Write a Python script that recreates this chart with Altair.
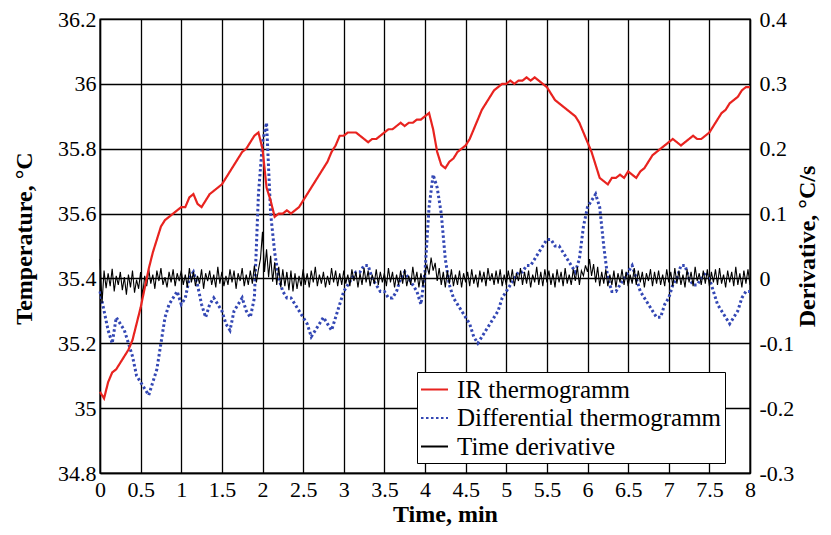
import altair as alt
import pandas as pd

# ---------------- data ----------------
series_names = ["IR thermogramm", "Differential thermogramm", "Time derivative"]

# IR thermogram, °C, sampled every 0.05 min from 0 to 8
ir_temp = [
    35.05, 35.03, 35.08, 35.11, 35.12, 35.14, 35.16, 35.18, 35.21, 35.26,
    35.31, 35.37, 35.43, 35.48, 35.52, 35.56, 35.58, 35.59, 35.60, 35.61,
    35.62, 35.62, 35.65, 35.66, 35.63, 35.62, 35.64, 35.66, 35.67, 35.68,
    35.69, 35.71, 35.73, 35.75, 35.77, 35.79, 35.80, 35.82, 35.84, 35.85,
    35.80, 35.68, 35.64, 35.59, 35.60, 35.60, 35.61, 35.60, 35.61, 35.62,
    35.64, 35.66, 35.68, 35.70, 35.72, 35.74, 35.76, 35.79, 35.81, 35.84,
    35.84, 35.85, 35.85, 35.85, 35.84, 35.83, 35.82, 35.83, 35.83, 35.84,
    35.85, 35.86, 35.86, 35.87, 35.88, 35.87, 35.88, 35.88, 35.89, 35.89,
    35.90, 35.91, 35.86, 35.79, 35.75, 35.74, 35.76, 35.77, 35.79, 35.80,
    35.81, 35.83, 35.86, 35.89, 35.92, 35.94, 35.96, 35.98, 35.99, 36.00,
    36.00, 36.01, 36.00, 36.01, 36.01, 36.02, 36.01, 36.02, 36.01, 36.00,
    35.99, 35.97, 35.95, 35.94, 35.93, 35.92, 35.91, 35.90, 35.88, 35.85,
    35.82, 35.79, 35.75, 35.71, 35.70, 35.69, 35.71, 35.71, 35.72, 35.71,
    35.73, 35.72, 35.71, 35.73, 35.74, 35.76, 35.78, 35.79, 35.80, 35.81,
    35.82, 35.83, 35.82, 35.81, 35.82, 35.83, 35.84, 35.83, 35.83, 35.84,
    35.85, 35.87, 35.89, 35.91, 35.92, 35.94, 35.95, 35.96, 35.98, 35.99,
    35.99,
]

# Differential thermogram, °C/s, every 0.05 min
diff_deriv = [
    -0.02, -0.05, -0.08, -0.10, -0.06, -0.07, -0.08, -0.10, -0.12, -0.15,
    -0.16, -0.17, -0.18, -0.16, -0.14, -0.10, -0.06, -0.04, -0.03, -0.02,
    -0.04, -0.03, 0.00, 0.01, -0.01, -0.04, -0.06, -0.04, -0.03, -0.04,
    -0.05, -0.07, -0.08, -0.05, -0.04, -0.03, -0.05, -0.06, -0.03, 0.13,
    0.21, 0.24, 0.10, 0.04, 0.00, -0.02, -0.03, -0.03, -0.04, -0.05,
    -0.06, -0.07, -0.09, -0.08, -0.07, -0.06, -0.07, -0.08, -0.06, -0.04,
    -0.02, -0.01, 0.00, 0.01, 0.01, 0.02, 0.02, 0.00, -0.01, -0.02,
    -0.02, -0.03, -0.03, -0.02, 0.00, 0.01, 0.00, -0.01, -0.02, -0.04,
    0.01, 0.11, 0.16, 0.14, 0.10, 0.03, -0.01, -0.03, -0.04, -0.05,
    -0.06, -0.07, -0.09, -0.10, -0.09, -0.08, -0.07, -0.06, -0.05, -0.03,
    -0.02, -0.01, 0.00, 0.01, 0.01, 0.02, 0.02, 0.03, 0.04, 0.05,
    0.06, 0.06, 0.05, 0.05, 0.04, 0.03, 0.02, 0.01, 0.03, 0.08,
    0.11, 0.12, 0.13, 0.11, 0.05, 0.00, -0.02, -0.02, -0.01, 0.00,
    0.01, 0.02, 0.00, -0.02, -0.03, -0.04, -0.05, -0.06, -0.06, -0.04,
    -0.03, -0.01, 0.00, 0.02, 0.02, 0.00, -0.01, -0.01, 0.00, 0.01,
    0.00, -0.02, -0.04, -0.05, -0.06, -0.07, -0.06, -0.05, -0.03, -0.02,
    -0.02,
]

# Time derivative, °C/s, every 0.025 min
time_deriv = [
    0.030, -0.038, 0.012, -0.015, 0.008, -0.012, 0.015, -0.020, 0.004, -0.010,
    0.010, -0.018, 0.002, -0.025, 0.006, -0.014, 0.012, -0.022, -0.002, -0.016,
    0.010, -0.028, 0.004, -0.012, 0.014, -0.008, 0.006, -0.016, 0.012, -0.004,
    0.016, -0.010, 0.002, -0.014, 0.010, -0.006, 0.014, -0.012, 0.008, -0.004,
    0.012, -0.010, 0.006, -0.014, 0.016, -0.006, 0.010, -0.012, 0.004, -0.008,
    0.014, -0.016, 0.008, -0.004, 0.012, -0.010, 0.006, -0.014, 0.018, -0.008,
    0.010, -0.012, 0.004, -0.010, 0.014, -0.006, 0.012, -0.016, 0.008, -0.004,
    0.016, -0.012, 0.006, -0.010, 0.012, -0.008, 0.020, -0.006, 0.014, 0.030,
    0.072, 0.010, 0.045, 0.002, 0.035, -0.005, 0.025, -0.010, 0.018, -0.014,
    0.014, -0.012, 0.010, -0.018, 0.012, -0.020, 0.008, -0.016, 0.004, -0.012,
    0.014, -0.010, 0.008, -0.014, 0.012, -0.006, 0.018, -0.012, 0.006, -0.008,
    0.010, -0.014, 0.004, -0.010, 0.016, -0.006, 0.012, -0.012, 0.008, -0.010,
    0.012, -0.008, 0.006, -0.012, 0.014, -0.004, 0.010, -0.014, 0.008, -0.010,
    0.016, -0.006, 0.012, -0.012, 0.006, -0.008, 0.014, -0.010, 0.010, -0.006,
    0.008, -0.012, 0.016, -0.006, 0.010, -0.014, 0.006, -0.010, 0.012, -0.008,
    0.014, -0.012, 0.004, -0.010, 0.018, -0.006, 0.010, -0.014, 0.008, -0.012,
    0.010, 0.020, 0.006, 0.032, 0.012, 0.024, -0.004, 0.016, -0.010, 0.010,
    -0.014, 0.012, -0.008, 0.014, -0.012, 0.006, -0.010, 0.012, -0.014, 0.008,
    -0.006, 0.010, -0.012, 0.014, -0.008, 0.006, -0.014, 0.012, -0.006, 0.010,
    -0.012, 0.016, -0.004, 0.008, -0.010, 0.012, -0.008, 0.014, -0.012, 0.006,
    -0.010, 0.012, -0.006, 0.014, -0.012, 0.008, -0.004, 0.016, -0.010, 0.010,
    -0.008, 0.012, -0.014, 0.006, -0.006, 0.018, -0.010, 0.010, -0.012, 0.014,
    -0.006, 0.012, -0.010, 0.008, -0.014, 0.014, -0.006, 0.010, -0.012, 0.016,
    -0.008, 0.006, -0.010, 0.014, -0.004, 0.018, -0.010, 0.012, 0.004, 0.020,
    0.010, 0.030, 0.004, 0.022, -0.006, 0.018, -0.012, 0.010, -0.008, 0.014,
    -0.012, 0.006, -0.010, 0.012, -0.014, 0.008, -0.006, 0.014, -0.010, 0.010,
    -0.012, 0.006, -0.008, 0.016, -0.010, 0.012, -0.006, 0.010, -0.014, 0.008,
    -0.004, 0.014, -0.012, 0.010, -0.008, 0.012, -0.010, 0.006, -0.012, 0.014,
    -0.006, 0.010, -0.012, 0.016, -0.008, 0.012, -0.010, 0.006, -0.014, 0.014,
    -0.006, 0.010, -0.012, 0.018, -0.004, 0.008, -0.010, 0.012, -0.008, 0.014,
    -0.012, 0.010, -0.006, 0.014, -0.010, 0.016, -0.008, 0.006, -0.014, 0.012,
    -0.006, 0.010, -0.012, 0.018, -0.010, 0.008, -0.014, 0.012, -0.008, 0.014,
    -0.010,
]

x_ticks = [0, 0.5, 1, 1.5, 2, 2.5, 3, 3.5, 4, 4.5, 5, 5.5, 6, 6.5, 7, 7.5, 8]
temp_ticks = [34.8, 35.0, 35.2, 35.4, 35.6, 35.8, 36.0, 36.2]
deriv_ticks = [-0.3, -0.2, -0.1, 0.0, 0.1, 0.2, 0.3, 0.4]
colors = ["#e8231f", "#3347b4", "#000000"]

# ---------------- frames ----------------
df_ir = pd.DataFrame({"t": [round(i * 0.05, 3) for i in range(len(ir_temp))],
                      "v": ir_temp, "series": series_names[0]})
df_diff = pd.DataFrame({"t": [round(i * 0.05, 3) for i in range(len(diff_deriv))],
                        "v": diff_deriv, "series": series_names[1]})
df_td = pd.DataFrame({"t": [round(i * 0.025, 4) for i in range(len(time_deriv))],
                      "v": time_deriv, "series": series_names[2]})

FONT = "Liberation Serif"

x_enc = alt.X("t:Q", scale=alt.Scale(domain=[0, 8], nice=False, zero=False),
              axis=alt.Axis(values=x_ticks, format="~g", title="Time, min",
                            grid=True, labelFlush=False, labelPadding=6,
                            titleX=345, titleY=48, titleBaseline="alphabetic",
                            titleAlign="center"))

legend_kw = dict(title=None, orient="none", legendX=317, legendY=353, labelLimit=500)
color_enc = alt.Color("series:N",
                      scale=alt.Scale(domain=series_names, range=colors),
                      legend=alt.Legend(**legend_kw))
dash_enc = alt.StrokeDash("series:N",
                          scale=alt.Scale(domain=series_names, range=[[1, 0], [2.5, 2.5], [1, 0]]),
                          legend=alt.Legend(**legend_kw))

y_temp = alt.Y("v:Q", scale=alt.Scale(domain=[34.8, 36.2], nice=False, zero=False),
               axis=alt.Axis(values=temp_ticks, orient="left", title="Temperature, °C",
                             labelExpr="format(datum.value, '.1~f')", grid=True,
                             labelPadding=4, titleAngle=270, titleX=-69, titleY=219,
                             titleAlign="center", titleBaseline="alphabetic"))

y_der = alt.Y("v:Q", scale=alt.Scale(domain=[-0.3, 0.4], nice=False, zero=False),
              axis=alt.Axis(values=deriv_ticks, orient="right", title="Derivative, °C/s",
                            labelExpr="replace(format(datum.value, '.1~f'), '\u2212', '-')",
                            grid=False, labelPadding=9, labelAlign="left",
                            titleAngle=270, titleX=64, titleY=227,
                            titleAlign="center", titleBaseline="alphabetic"))

ir_layer = alt.Chart(df_ir).mark_line(strokeWidth=2.2).encode(
    x=x_enc, y=y_temp, color=color_enc, strokeDash=dash_enc,
)

diff_layer = alt.Chart(df_diff).mark_line(strokeWidth=3).encode(
    x=x_enc, y=y_der, color=color_enc, strokeDash=dash_enc,
)

td_layer = alt.Chart(df_td).mark_line(strokeWidth=1.1).encode(
    x=x_enc, y=y_der, color=color_enc, strokeDash=dash_enc,
)

der_group = alt.layer(diff_layer, td_layer)

chart = alt.layer(der_group, ir_layer).resolve_scale(y="independent").properties(
    width=650, height=454,
    autosize=alt.AutoSizeParams(type="none"),
    padding={"left": 92, "top": 11, "right": 73, "bottom": 53},
    background="white",
).configure_view(
    stroke="#000000", strokeWidth=1.4,
).configure_axis(
    labelFont=FONT, labelFontSize=22, labelColor="#000000",
    titleFont=FONT, titleFontSize=24, titleFontWeight="bold", titleColor="#000000",
    ticks=False, tickSize=0, domain=True, domainColor="#000000", domainWidth=1.4,
    gridColor="#000000", gridOpacity=1, gridWidth=1.3,
).configure_legend(
    labelFont=FONT, labelFontSize=25, labelColor="#000000",
    symbolType="stroke", symbolSize=729, symbolStrokeWidth=1.8,
    strokeColor="#000000", fillColor="#ffffff", padding=3,
    rowPadding=0.5, labelOffset=8, cornerRadius=0,
)

chart.save("out.html", embed_options={"renderer": "svg", "actions": False})
